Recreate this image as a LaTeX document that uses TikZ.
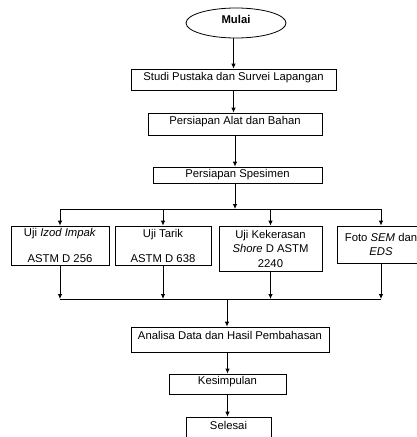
\documentclass[tikz,border=0pt]{standalone}
\usepackage{fontspec}
\setmainfont{Liberation Sans}
\usetikzlibrary{shapes.geometric,arrows.meta}

\begin{document}
\begin{tikzpicture}[x=1pt, y=-1pt, >={Latex[length=5pt,width=4.5pt]},
		font=\fontsize{11.3}{14.5}\selectfont,
		tahap/.style={draw, rectangle, align=center, inner sep=0pt, line width=0.8pt},
		alur/.style={->, line width=0.8pt}]
		\useasboundingbox (0,0) rectangle (417,437);
		% start and main steps
		\node[draw, ellipse, line width=0.8pt, minimum width=100, minimum height=30, inner sep=0pt, text depth=8pt,
			font=\fontsize{11.3}{14.5}\selectfont\bfseries] (mulai) at (236,23) {Mulai};
		\node[tahap, minimum width=205, minimum height=21, text depth=5.5pt] (studi) at (233.5,79.5) {Studi Pustaka dan Survei Lapangan};
		\node[tahap, minimum width=174, minimum height=22, text depth=8pt] (alat) at (235,124) {Persiapan Alat dan Bahan};
		\node[tahap, minimum width=169, minimum height=16] (spesimen) at (237.5,175) {Persiapan Spesimen};
		% tests
		\node[tahap, minimum width=98, minimum height=39] (uji1) at (60,245.5) {Uji \textit{Izod Impak}\\[11.5pt]ASTM D 256};
		\node[tahap, minimum width=96, minimum height=39] (uji2) at (163,245.5) {Uji Tarik\\[10.5pt]ASTM D 638};
		\node[tahap, minimum width=103, minimum height=45] (uji3) at (270.5,248.5) {Uji Kekerasan\\\textit{Shore} D ASTM\\2240};
		\node[tahap, minimum width=88, minimum height=37] (foto) at (381,244.5) {Foto \textit{SEM} dan\\\textit{EDS}};
		% closing steps
		\node[tahap, minimum width=198, minimum height=25, text depth=8pt] (analisa) at (230,339.5) {Analisa Data dan Hasil Pembahasan};
		\node[tahap, minimum width=117, minimum height=20, text depth=6.5pt] (kesimpulan) at (227.5,384) {Kesimpulan};
		\node[tahap, minimum width=85, minimum height=21, text depth=4pt] (selesai) at (228.5,427.5) {Selesai};
		\coordinate (bagi) at (235,209);
		\coordinate (gabung) at (227,299);
		% connectors
		\draw[alur] (mulai.south -| studi) -- (studi.north);
		\draw[alur] (studi.south) -- (studi.south |- alat.north);
		\draw[alur] (alat.south) -- (alat.south |- spesimen.north);
		\draw[alur] (spesimen.south -| bagi) -- (bagi);
		\draw[line width=0.8pt] (uji1.north |- bagi) -- (foto.north |- bagi);
		\foreach \n in {uji1,uji2,uji3,foto}
			\draw[alur] (\n.north |- bagi) -- (\n.north);
		\foreach \n in {uji1,uji2,uji3,foto}
			\draw[alur] (\n.south) -- (\n.south |- gabung);
		\draw[line width=0.8pt] (uji1.south |- gabung) -- (foto.south |- gabung);
		\draw[alur] (gabung) -- (gabung |- analisa.north);
		\draw[alur] (analisa.south -| kesimpulan) -- (kesimpulan.north);
		\draw[alur] (kesimpulan.south) -- (selesai.north -| kesimpulan);
	\end{tikzpicture}
\end{document}
